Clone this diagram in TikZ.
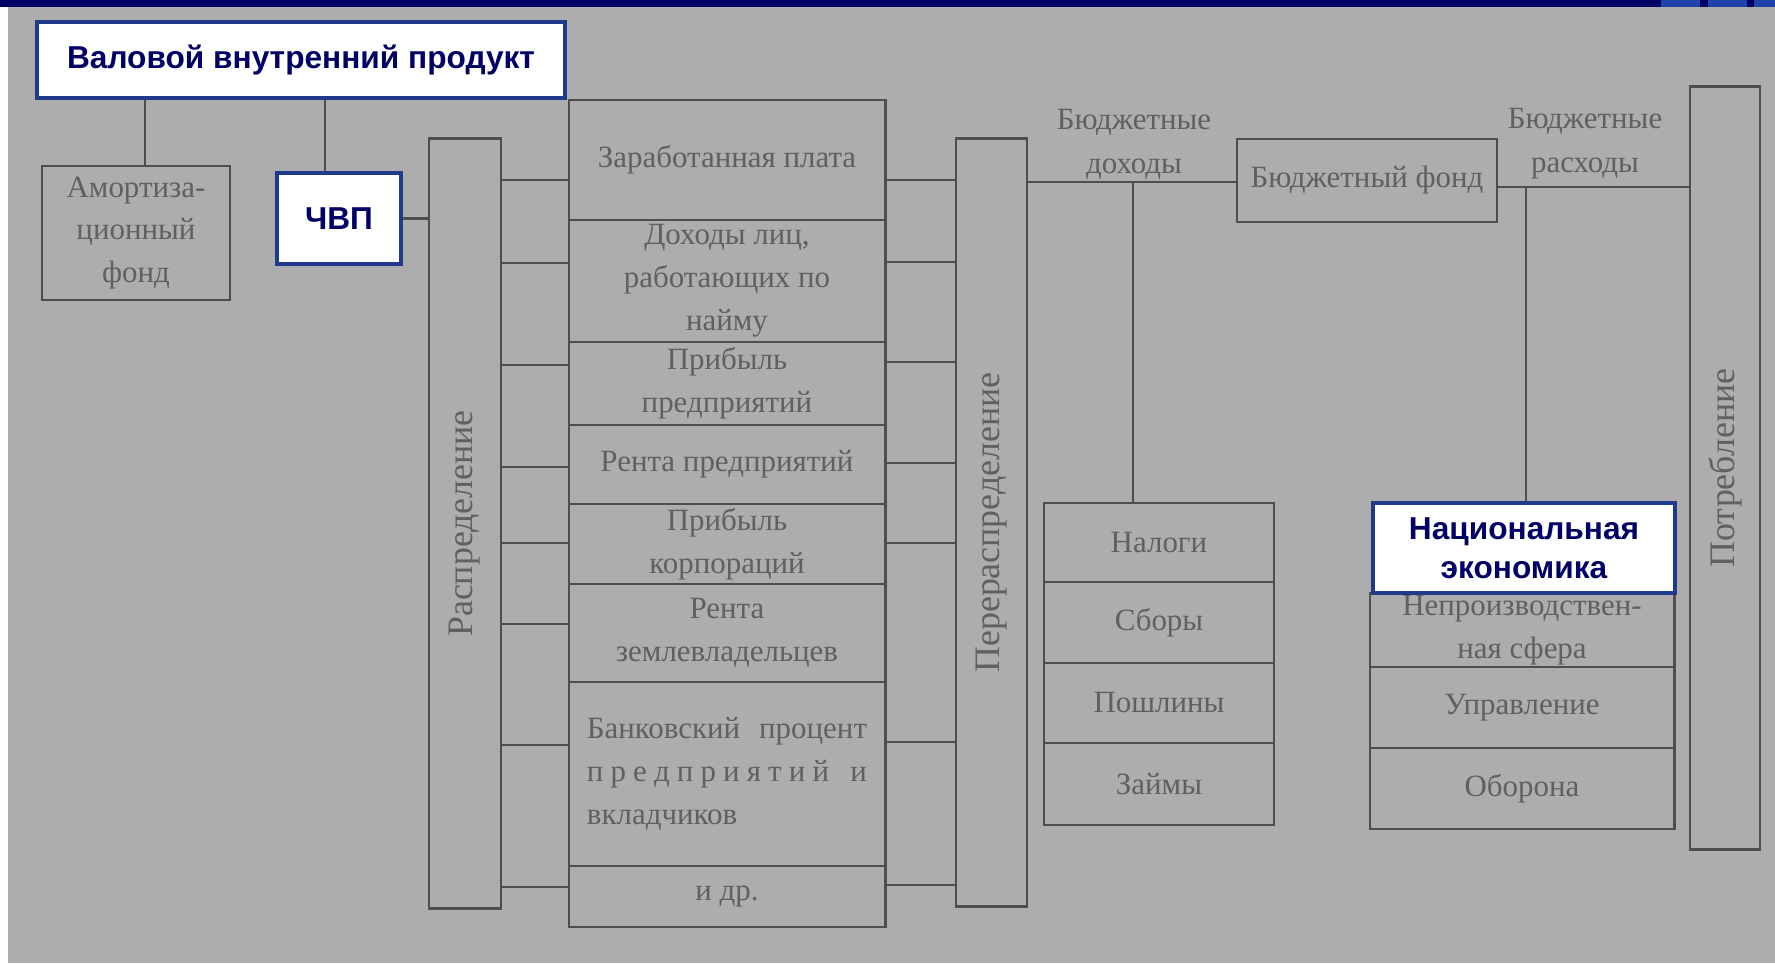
\documentclass[tikz,border=0pt]{standalone}
\usepackage{fontspec}
\setmainfont{Liberation Serif}
\newfontfamily\headfont{Liberation Sans}
\usetikzlibrary{positioning}

\definecolor{paper}{RGB}{173,173,173}
\definecolor{ink}{RGB}{96,96,96}
\definecolor{rule}{RGB}{78,78,78}
\definecolor{navy}{RGB}{0,0,102}
\definecolor{frame}{RGB}{31,58,140}
\definecolor{tab}{RGB}{30,67,170}

\begin{document}
\begin{tikzpicture}[
    x=0.01cm, y=-0.01cm,
    cell/.style={draw=rule, line width=0.8pt, inner sep=0pt, align=center, text=ink, font=\fontsize{8.8}{12.2}\selectfont},
    vtext/.style={rotate=90, text=ink, inner sep=0pt, font=\fontsize{10.2}{12.2}\selectfont},
    head/.style={draw=frame, line width=1.3pt, fill=white, inner sep=0pt, align=center, text=navy, font=\headfont\bfseries\fontsize{9}{11}\selectfont},
    link/.style={rule, line width=0.8pt},
    note/.style={text=ink, align=center, inner sep=0pt, font=\fontsize{8.8}{12.5}\selectfont}
]

% Slide background
\fill[paper] (0,0) rectangle (1775,963);
\fill[white] (0,7) rectangle (8,963);
\fill[navy] (0,0) rectangle (1775,7);
\foreach \a/\b in {1661/1700, 1708/1747, 1754/1775}
    \fill[tab] (\a,0) rectangle (\b,7);
\useasboundingbox (0,0) rectangle (1775,963);

% Left part
\node[cell, minimum width=1.88cm, minimum height=1.34cm] (amort) at (136,233) {Амортиза-\\ционный\\фонд};
\node[cell, minimum width=0.72cm, minimum height=7.69cm, label={[vtext]center:Распределение}] (rasp) at (465,523.5) {};

% Incomes
\node[cell, minimum width=3.16cm, minimum height=1.20cm] (r1) at (727,160) {Заработанная плата};
\node[cell, minimum width=3.16cm, minimum height=1.22cm] (r2) at (727,281) {Доходы лиц,\\работающих по\\найму};
\node[cell, minimum width=3.16cm, minimum height=0.83cm] (r3) at (727,383.5) {Прибыль\\предприятий};
\node[cell, minimum width=3.16cm, minimum height=0.79cm] (r4) at (727,464.5) {Рента предприятий};
\node[cell, minimum width=3.16cm, minimum height=0.80cm] (r5) at (727,544) {Прибыль\\корпораций};
\node[cell, minimum width=3.16cm, minimum height=0.98cm] (r6) at (727,633) {Рента\\землевладельцев};
\node[cell, minimum width=3.16cm, minimum height=1.84cm] (r7) at (727,774) {%
    \makebox[2.8cm][s]{Банковский процент}\\
    \makebox[2.8cm][s]{п\hfill р\hfill е\hfill д\hfill п\hfill р\hfill и\hfill я\hfill т\hfill и\hfill й\hfill\hfill\hfill и}\\
    \makebox[2.8cm][l]{вкладчиков}};
\node[cell, minimum width=3.16cm, minimum height=0.61cm] (r8) at (727,896.5) {и др.};

\node[cell, minimum width=0.71cm, minimum height=7.67cm, label={[vtext]center:Перераспределение}] (perer) at (991.5,522.5) {};

% Budget
\node[note] (bdoh) at (1134,144) {Бюджетные\\доходы};
\node[cell, minimum width=2.60cm, minimum height=0.83cm] (bfond) at (1367,180.5) {Бюджетный фонд};
\node[note] (bras) at (1585,144) {Бюджетные\\расходы};

\node[cell, minimum width=2.30cm, minimum height=0.79cm] (n1) at (1159,542.5) {Налоги};
\node[cell, minimum width=2.30cm, minimum height=0.81cm] (n2) at (1159,622.5) {Сборы};
\node[cell, minimum width=2.30cm, minimum height=0.80cm] (n3) at (1159,703) {Пошлины};
\node[cell, minimum width=2.30cm, minimum height=0.82cm] (n4) at (1159,784) {Займы};

\node[cell, minimum width=3.04cm, minimum height=0.74cm] (e1) at (1522,630) {Непроизводствен-\\ная сфера};
\node[cell, minimum width=3.04cm, minimum height=0.81cm] (e2) at (1522,707.5) {Управление};
\node[cell, minimum width=3.04cm, minimum height=0.81cm] (e3) at (1522,788.5) {Оборона};

\node[cell, minimum width=0.70cm, minimum height=7.62cm, label={[vtext]center:Потребление}] (potr) at (1725,468) {};

% Highlighted boxes
\node[head, minimum width=5.28cm, minimum height=0.76cm] (vvp) at (301,60) {\raisebox{-2pt}{Валовой внутренний продукт}};
\node[head, minimum width=1.24cm, minimum height=0.91cm] (chvp) at (339,218.5) {ЧВП};
\node[head, minimum width=3.02cm, minimum height=0.90cm] (natec) at (1524,548) {Национальная\\экономика};

% Connectors
\draw[link] (vvp.south -| 145,0) -- (amort.north -| 145,0);
\draw[link] (vvp.south -| 325,0) -- (chvp.north -| 325,0);
\draw[link] (chvp.east) -- (chvp.east -| rasp.west);
\foreach \r/\y in {r1/180, r2/263, r3/365, r4/467, r5/543, r6/624, r7/745, r8/887}
    \draw[link] (rasp.east |- 0,\y) -- (\r.west |- 0,\y);
\foreach \r/\y in {r1/180, r2/262, r3/362, r4/463, r5/543, r7/742, r8/885}
    \draw[link] (\r.east |- 0,\y) -- (perer.west |- 0,\y);
\draw[link] (perer.east |- 0,182) -- (bfond.west |- 0,182);
\coordinate (dohj) at (1133,182);
\draw[link] (dohj) -- (dohj |- n1.north);
\draw[link] (bfond.east |- 0,187) -- (potr.west |- 0,187);
\coordinate (rasj) at (1526,187);
\draw[link] (rasj) -- (rasj |- natec.north);

\end{tikzpicture}
\end{document}
